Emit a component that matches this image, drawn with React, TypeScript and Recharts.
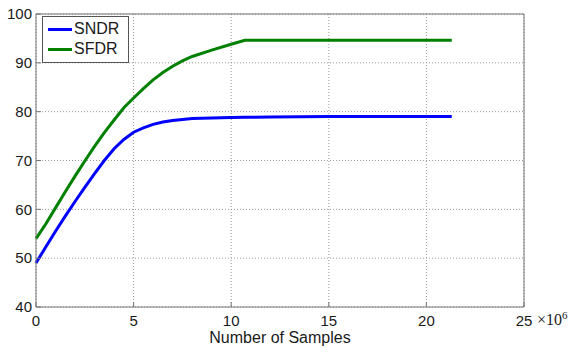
import { LineChart, Line, XAxis, YAxis, CartesianGrid, ReferenceLine } from 'recharts';

// number of samples, in units of 10^6
const samples = [0, 0.5, 1, 1.5, 2, 2.5, 3, 3.5, 4, 4.5, 5, 5.5, 6, 6.5, 7, 7.5, 8, 9, 10, 10.7, 12, 15, 18, 21.3];
const sndr = [49, 52.3, 55.5, 58.6, 61.6, 64.5, 67.3, 70, 72.4, 74.3, 75.8, 76.7, 77.4, 77.9, 78.2, 78.4, 78.6, 78.7, 78.8, 78.85, 78.9, 79, 79, 79];
const sfdr = [54, 57, 60.3, 63.6, 66.8, 69.9, 72.9, 75.7, 78.3, 80.8, 82.8, 84.7, 86.5, 88, 89.3, 90.4, 91.3, 92.6, 93.8, 94.6, 94.6, 94.6, 94.6, 94.6];

const xTicks = [0, 5, 10, 15, 20, 25];
const yTicks = [40, 50, 60, 70, 80, 90, 100];

const series = [
  { key: 'SNDR', color: '#0000ff' },
  { key: 'SFDR', color: '#008000' },
];

const data = samples.map((x, i) => ({ x, SNDR: sndr[i], SFDR: sfdr[i] }));

const font = '"Liberation Sans", Arial, sans-serif';
const tickStyle = { fontSize: 15, fill: '#1a1a1a', fontFamily: font };

export default function App() {
  return (
    <div style={{ position: 'absolute', left: 0, top: 0, width: 577, height: 348, background: '#fff' }}>
      <LineChart width={577} height={348} data={data} margin={{ top: 14, right: 53, left: 0, bottom: 0 }}>
        <CartesianGrid stroke="#999" strokeDasharray="1 2" />
        <XAxis
          dataKey="x"
          type="number"
          domain={[0, 25]}
          ticks={xTicks}
          height={41}
          stroke="#777"
          tickSize={-5}
          tickMargin={13}
          tick={tickStyle}
          label={{ value: 'Number of Samples', position: 'insideBottom', offset: 5, style: { fontSize: 16, fill: '#1a1a1a', fontFamily: font } }}
        />
        <YAxis
          type="number"
          domain={[40, 100]}
          ticks={yTicks}
          width={36}
          stroke="#777"
          tickSize={-5}
          tickMargin={9}
          tick={tickStyle}
        />
        <ReferenceLine y={100} stroke="#777" />
        <ReferenceLine x={25} stroke="#777" />
        {series.map((s) => (
          <Line key={s.key} dataKey={s.key} stroke={s.color} strokeWidth={3} dot={false} type="linear" isAnimationActive={false} />
        ))}
      </LineChart>
      <div style={{ position: 'absolute', left: 42, top: 16, width: 80, border: '1px solid #555', background: '#fff', padding: '2px 0 3px 5px', fontFamily: font, fontSize: 16, color: '#1a1a1a' }}>
        {series.map((s) => (
          <div key={s.key} style={{ display: 'flex', alignItems: 'center', height: 20 }}>
            <span style={{ width: 24, height: 3, background: s.color, marginRight: 2 }} />
            <span>{s.key}</span>
          </div>
        ))}
      </div>
      <span style={{ position: 'absolute', left: 537, top: 309, fontFamily: '"Liberation Serif", "Times New Roman", serif', fontSize: 16, color: '#1a1a1a' }}>
        ×10<sup style={{ fontSize: 11 }}>6</sup>
      </span>
    </div>
  );
}
